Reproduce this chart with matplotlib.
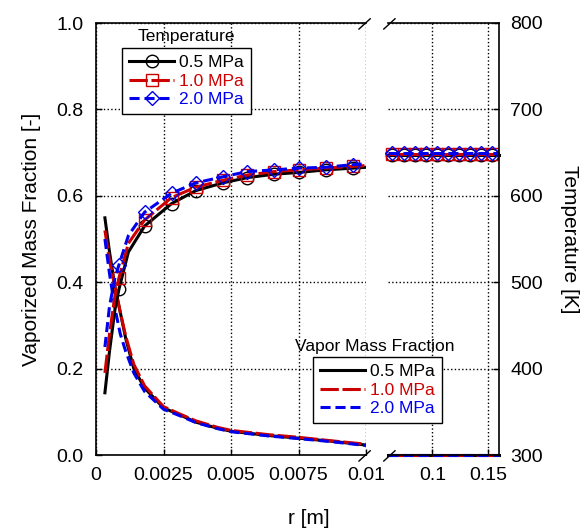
import matplotlib
matplotlib.use("Agg")
import matplotlib.pyplot as plt
from matplotlib.lines import Line2D

plt.rcParams['font.family'] = ['Liberation Sans', 'DejaVu Sans']

# ---- data ----
# temperature (right axis, K), near region r <= 0.01 m
r_temp = [0.00033, 0.0005, 0.0007, 0.00085, 0.0012, 0.0018, 0.0028, 0.0037,
          0.0047, 0.0056, 0.0066, 0.0075, 0.0085, 0.0095, 0.01]
temp_05 = [372, 420, 468, 492, 535, 565, 591, 606, 615, 621, 625, 627, 630, 632, 633]
temp_10 = [395, 440, 484, 505, 545, 572, 598, 610, 618, 624, 628, 630, 632, 634, 635]
temp_20 = [425, 472, 505, 520, 554, 581, 603, 615, 622, 628, 630, 632, 633, 636, 637]
temp_marks = [3, 5, 6, 7, 8, 9, 10, 11, 12, 13]

# vapor mass fraction (left axis), near region
r_vap = [0.00033, 0.0005, 0.0007, 0.0009, 0.0011, 0.0014, 0.0018, 0.0025, 0.0031,
         0.0037, 0.0045, 0.005, 0.0064, 0.0075, 0.0087, 0.01]
vap_05 = [0.549, 0.47, 0.39, 0.33, 0.27, 0.20, 0.155, 0.109, 0.093, 0.076, 0.062,
          0.055, 0.045, 0.039, 0.032, 0.023]
vap_10 = [0.52, 0.45, 0.39, 0.33, 0.275, 0.21, 0.16, 0.112, 0.095, 0.079, 0.064,
          0.057, 0.047, 0.041, 0.033, 0.025]
vap_20 = [0.50, 0.42, 0.34, 0.28, 0.24, 0.19, 0.147, 0.106, 0.091, 0.075, 0.061,
          0.054, 0.044, 0.038, 0.031, 0.022]

# far region (broken axis part)
r_far = [0.06, 0.064, 0.074, 0.084, 0.094, 0.104, 0.114, 0.124, 0.134, 0.144, 0.154, 0.16]
temp_far_05 = [647] * len(r_far)
temp_far_10 = [648] * len(r_far)
temp_far_20 = [649] * len(r_far)
far_marks = list(range(1, 11))
vap_far = [0.0] * len(r_far)

labels = ['0.5 MPa', '1.0 MPa', '2.0 MPa']
colors = ['black', '#cc0000', '#0000ee']
markers = ['o', 's', 'D']
msizes = [9, 9, 7.5]
styles = ['-', (0, (6, 1.2)), (0, (3.3, 1.6))]
LW = 2.2

fig = plt.figure(figsize=(5.85, 5.32), dpi=100)
W, H = 585.0, 532.0
ax_l = fig.add_axes([96 / W, 77 / H, 270 / W, 432 / H])
ax_r = fig.add_axes([388 / W, 77 / H, 111 / W, 432 / H])
ax_lt = ax_l.twinx()
ax_rt = ax_r.twinx()

temps_near = [temp_05, temp_10, temp_20]
temps_far = [temp_far_05, temp_far_10, temp_far_20]
vaps = [vap_05, vap_10, vap_20]

for i in range(3):
    ax_l.plot(r_vap, vaps[i], color=colors[i], ls=styles[i], lw=LW)
    ax_r.plot(r_far, vap_far, color=colors[i], ls=styles[i], lw=LW, clip_on=False)
    ax_lt.plot(r_temp, temps_near[i], color=colors[i], ls=styles[i], lw=LW,
               marker=markers[i], ms=msizes[i], mfc='none', mec=colors[i], mew=1,
               markevery=temp_marks)
    ax_rt.plot(r_far, temps_far[i], color=colors[i], ls=styles[i], lw=LW,
               marker=markers[i], ms=msizes[i], mfc='none', mec=colors[i], mew=1,
               markevery=far_marks, clip_on=False)

# limits / ticks
for ax in (ax_l, ax_r):
    ax.set_ylim(0, 1)
    ax.set_yticks([0, 0.2, 0.4, 0.6, 0.8, 1.0])
    ax.grid(True, color='black', ls=':', lw=1)
    ax.tick_params(direction='in', length=4, width=1, labelsize=14, pad=9)
for ax in (ax_lt, ax_rt):
    ax.set_ylim(300, 800)

ax_l.set_xlim(0, 0.01)
ax_l.set_xticks([0, 0.0025, 0.005, 0.0075, 0.01])
ax_l.set_xticklabels(['0', '0.0025', '0.005', '0.0075', '0.01'])
ax_l.set_yticklabels(['0.0', '0.2', '0.4', '0.6', '0.8', '1.0'])
ax_lt.set_xlim(0, 0.01)

ax_r.set_xlim(0.06, 0.16)
ax_r.set_xticks([0.1, 0.15])
ax_r.set_xticklabels(['0.1', '0.15'])
ax_r.tick_params(axis='y', left=False, labelleft=False)
ax_rt.set_xlim(0.06, 0.16)

ax_lt.tick_params(axis='y', right=False, labelright=False)
ax_rt.set_yticks([300, 400, 500, 600, 700, 800])
ax_rt.tick_params(axis='y', direction='in', length=4, width=1, labelsize=14, pad=8)

# spines
for ax in (ax_l, ax_lt):
    for s in ('left', 'bottom', 'top', 'right'):
        ax.spines[s].set_visible(False)
for s in ('left', 'bottom', 'top'):
    ax_l.spines[s].set_visible(True)
    ax_l.spines[s].set_linestyle((0, (1, 1)))
    ax_l.spines[s].set_linewidth(1.2)
for ax in (ax_r, ax_rt):
    for s in ('left', 'bottom', 'top', 'right'):
        ax.spines[s].set_visible(False)
for s in ('top', 'bottom'):
    ax_r.spines[s].set_visible(True)
    ax_r.spines[s].set_linestyle((0, (1, 1)))
    ax_r.spines[s].set_linewidth(1.2)
ax_rt.spines['right'].set_visible(True)
ax_rt.spines['right'].set_linewidth(1.2)

# break marks
d = 0.026
dy = 0.014
for y0 in (0, 1):
    ax_l.plot([1 - d, 1 + d * 0.6], [y0 - dy, y0 + dy * 0.7], transform=ax_l.transAxes,
              color='black', lw=1, clip_on=False)
    dr = d * 270 / 111
    ax_r.plot([0 - dr * 0.6, 0 + dr], [y0 - dy, y0 + dy * 0.7], transform=ax_r.transAxes,
              color='black', lw=1, clip_on=False)

# axis labels
fig.text(32 / W, 1 - 239 / H, 'Vaporized Mass Fraction [-]', rotation=90,
         ha='center', va='center', fontsize=15)
fig.text(570 / W, 1 - 239 / H, 'Temperature [K]', rotation=270,
         ha='center', va='center', fontsize=15)
fig.text(309 / W, 1 - 518 / H, 'r [m]', ha='center', va='center', fontsize=15)

# legends
temp_handles = [Line2D([], [], color=colors[i], ls=styles[i], lw=LW, marker=markers[i],
                       ms=msizes[i], mfc='none', mec=colors[i], mew=1) for i in range(3)]
vap_handles = [Line2D([], [], color=colors[i], ls=styles[i], lw=LW) for i in range(3)]

leg1 = fig.legend(temp_handles, labels, loc='upper left',
                  bbox_to_anchor=(122 / W, 1 - 48 / H), borderaxespad=0,
                  fontsize=12.5, handlelength=2.6, handletextpad=0.3, labelspacing=0.2,
                  borderpad=0.4, fancybox=False, edgecolor='black', framealpha=1,
                  numpoints=1)
leg1.get_frame().set_linewidth(1)
for t, c in zip(leg1.get_texts(), colors):
    t.set_color(c)
fig.text(186 / W, 1 - 36 / H, 'Temperature', ha='center', va='center', fontsize=12.5)

leg2 = fig.legend(vap_handles, labels, loc='upper left',
                  bbox_to_anchor=(313 / W, 1 - 357 / H), borderaxespad=0,
                  fontsize=12.5, handlelength=2.6, handletextpad=0.3, labelspacing=0.2,
                  borderpad=0.4, fancybox=False, edgecolor='black', framealpha=1)
leg2.get_frame().set_linewidth(1)
for t, c in zip(leg2.get_texts(), colors):
    t.set_color(c)
fig.text(375 / W, 1 - 346 / H, 'Vapor Mass Fraction', ha='center', va='center', fontsize=12.5)

fig.savefig('out.png', dpi=100)
